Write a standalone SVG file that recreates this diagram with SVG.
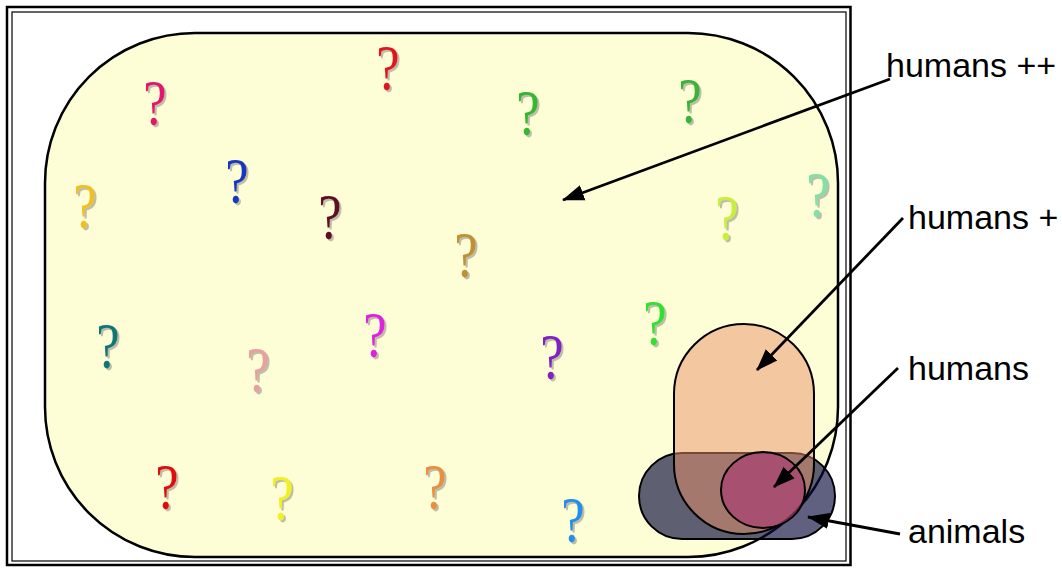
<svg xmlns="http://www.w3.org/2000/svg" width="1062" height="568" viewBox="0 0 1062 568">
<style>
.q{font-family:"Liberation Serif","Times New Roman",serif;font-size:66px;text-anchor:middle;filter:url(#sh);transform-box:fill-box;transform-origin:center;transform:scaleX(0.8)}
.lbl{font-family:"Liberation Sans",Arial,sans-serif;font-size:34px;fill:#000}
.con{stroke:#000;stroke-width:2.8;fill:none;marker-end:url(#ah)}
</style>
<defs>
<filter id="sh" x="-30%" y="-30%" width="160%" height="160%">
<feDropShadow dx="2.5" dy="2" stdDeviation="0.7" flood-color="#8a8a80" flood-opacity="0.55"/>
</filter>
<marker id="ah" markerUnits="userSpaceOnUse" markerWidth="24" markerHeight="20" viewBox="0 0 24 20" refX="21" refY="10" orient="auto">
<path d="M0,2 L22,10 L0,18 Z" fill="#000"/>
</marker>
</defs>
<rect width="1062" height="568" fill="#fff"/>
<g id="frame">
<rect x="7" y="7" width="843.5" height="558" fill="none" stroke="#000" stroke-width="2.5"/>
<rect x="12" y="12" width="834" height="549" fill="none" stroke="#000" stroke-width="1.2"/>
</g>
<g id="universe">
<rect x="45" y="33" width="793" height="524" rx="150" ry="150" fill="#fdfdd6" stroke="#000" stroke-width="2.5"/>
</g>
<g id="questions">
<text class="q" x="155" y="125" fill="#e2186c">?</text>
<text class="q" x="388" y="90" fill="#e01820">?</text>
<text class="q" x="528" y="135" fill="#30b830">?</text>
<text class="q" x="690" y="123" fill="#38b43a">?</text>
<text class="q" x="727" y="240" fill="#c8ee40">?</text>
<text class="q" x="818" y="217" fill="#80e0a8">?</text>
<text class="q" x="85" y="228" fill="#f0c020">?</text>
<text class="q" x="237" y="203" fill="#1838c0">?</text>
<text class="q" x="330" y="239" fill="#600828">?</text>
<text class="q" x="466" y="277" fill="#c09030">?</text>
<text class="q" x="108" y="368" fill="#107878">?</text>
<text class="q" x="258" y="392" fill="#e8a0a0">?</text>
<text class="q" x="375" y="357" fill="#e020e0">?</text>
<text class="q" x="552" y="379" fill="#8020c0">?</text>
<text class="q" x="655" y="345" fill="#30e030">?</text>
<text class="q" x="167" y="509" fill="#e01010">?</text>
<text class="q" x="282" y="520" fill="#f0f020">?</text>
<text class="q" x="435" y="509" fill="#e89040">?</text>
<text class="q" x="573" y="542" fill="#2090e8">?</text>
</g>
<g id="animals">
<rect x="639" y="453" width="196" height="86" rx="43" ry="43" fill="#0a0a3c" fill-opacity="0.65" stroke="#000" stroke-width="2"/>
</g>
<g id="humans-plus">
<rect x="674" y="324" width="140" height="210" rx="70" ry="70" fill="#e99168" fill-opacity="0.5" stroke="#000" stroke-width="2"/>
</g>
<g id="humans">
<ellipse cx="763" cy="490" rx="42" ry="38" fill="#aa3f71" fill-opacity="0.7" stroke="#000" stroke-width="2"/>
</g>
<g id="connectors">
<line class="con" x1="890" y1="79" x2="563" y2="200"/>
<line class="con" x1="903" y1="218" x2="757" y2="370"/>
<line class="con" x1="898" y1="368" x2="774" y2="487"/>
<line class="con" x1="900" y1="534" x2="808" y2="517"/>
</g>
<g id="labels">
<text class="lbl" x="886" y="77">humans ++</text>
<text class="lbl" x="908" y="229">humans +</text>
<text class="lbl" x="908" y="380">humans</text>
<text class="lbl" x="908" y="543">animals</text>
</g>
</svg>
